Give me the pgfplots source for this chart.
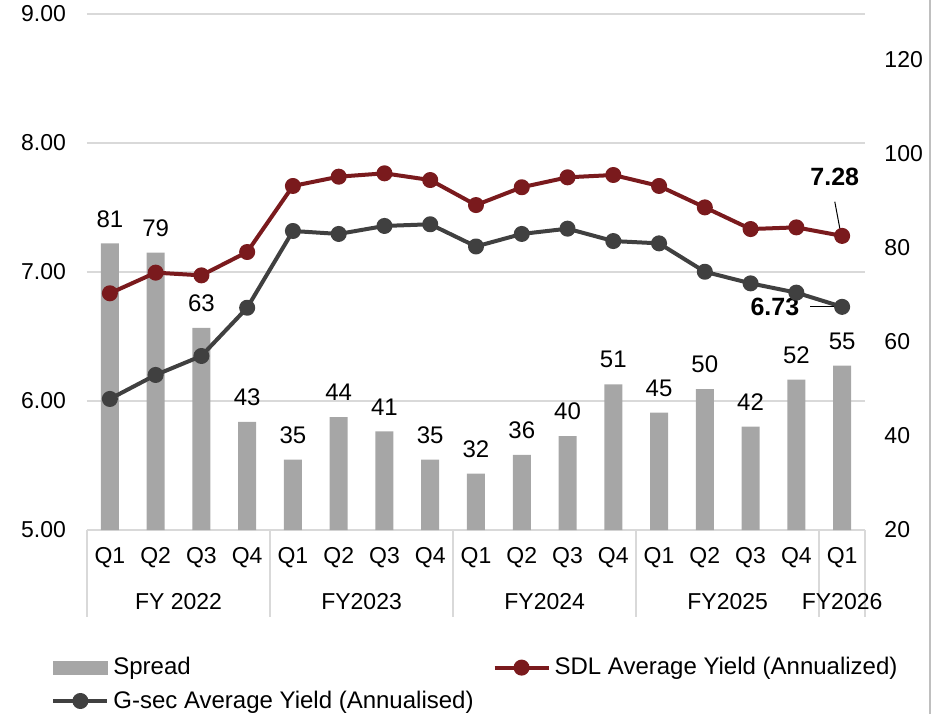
\documentclass[border=0pt]{standalone}
\usepackage{pgfplots}
\pgfplotsset{compat=1.18}
\usepackage{fontspec}
\setmainfont{Liberation Sans}
\definecolor{sdlred}{HTML}{7A1A1D}
\definecolor{gsec}{HTML}{404040}
\definecolor{bargray}{HTML}{A6A6A6}
\definecolor{gridgray}{HTML}{D9D9D9}
\definecolor{framegray}{HTML}{BFBFBF}
\newcommand{\tickfont}{\fontsize{11.5}{13}\selectfont}
\newcommand{\labelfont}{\fontsize{12}{14}\selectfont}
\pgfplotsset{
  common/.style={
    at={(0,0)}, anchor=south west, scale only axis, width=389pt, height=258pt,
    xmin=-0.5, xmax=16.5, clip=false,
    /pgf/number format/assume math mode=true,
    major tick length=0pt, tick style={draw=none},
    axis line style={draw=none},
  },
  lineleg/.style={legend image code/.code={\draw[mark repeat=2,mark phase=2,##1] plot coordinates {(0pt,0pt) (13.5pt,0pt) (27pt,0pt)};}},
  barleg/.style={legend image code/.code={\fill[bargray] (0pt,-3.25pt) rectangle (27pt,3.25pt);}},
}
\begin{document}
\begin{tikzpicture}
% ---------- Axis A: left axis, grid, category labels
\begin{axis}[common, ymin=5, ymax=9, ytick={5,6,7,8,9},
  ymajorgrids, grid style={gridgray, line width=0.75pt},
  yticklabel style={/pgf/number format/.cd, fixed, fixed zerofill, precision=2, /tikz/.cd, font=\tickfont, xshift=-7pt},
  xtick={0,...,16},
  xticklabels={Q1,Q2,Q3,Q4,Q1,Q2,Q3,Q4,Q1,Q2,Q3,Q4,Q1,Q2,Q3,Q4,Q1},
  xticklabel style={anchor=center, yshift=-14pt, font=\tickfont}]
\draw[gridgray, line width=0.75pt] (axis cs:-0.5,5) -- (axis cs:16.5,5);
\draw[gridgray, line width=0.75pt] (axis cs:-0.5,5) -- ([yshift=-43.5pt]axis cs:-0.5,5);
\draw[gridgray, line width=0.75pt] (axis cs:3.5,5) -- ([yshift=-43.5pt]axis cs:3.5,5);
\draw[gridgray, line width=0.75pt] (axis cs:7.5,5) -- ([yshift=-43.5pt]axis cs:7.5,5);
\draw[gridgray, line width=0.75pt] (axis cs:11.5,5) -- ([yshift=-43.5pt]axis cs:11.5,5);
\draw[gridgray, line width=0.75pt] (axis cs:15.5,5) -- ([yshift=-43.5pt]axis cs:15.5,5);
\draw[gridgray, line width=0.75pt] (axis cs:16.5,5) -- ([yshift=-43.5pt]axis cs:16.5,5);
\node[font=\tickfont] at (axis cs:1.5,5) [yshift=-35.9pt] {FY 2022};
\node[font=\tickfont] at (axis cs:5.5,5) [yshift=-35.9pt] {FY2023};
\node[font=\tickfont] at (axis cs:9.5,5) [yshift=-35.9pt] {FY2024};
\node[font=\tickfont] at (axis cs:13.5,5) [yshift=-35.9pt] {FY2025};
\node[font=\tickfont] at (axis cs:16,5) [yshift=-35.9pt] {FY2026};
\end{axis}
% ---------- Axis B: right axis, spread bars
\begin{axis}[common, clip=true, ymin=20, ymax=129.8, ytick={20,40,60,80,100,120},
  yticklabel pos=right,
  yticklabel style={font=\tickfont, xshift=6.2pt},
  xtick=\empty,
  ybar, bar width=9pt,
  nodes near coords,
  every node near coord/.append style={anchor=center, yshift=12.25pt, font=\labelfont, text=black}]
\addplot[fill=bargray, draw=none] coordinates {
 (0,81) (1,79) (2,63) (3,43) (4,35) (5,44) (6,41) (7,35) (8,32)
 (9,36) (10,40) (11,51) (12,45) (13,50) (14,42) (15,52) (16,55)};
\end{axis}
% ---------- Axis C: lines, legend
\begin{axis}[common, ymin=5, ymax=9, hide axis,
  legend columns=2,
  legend cell align=left,
  legend style={draw=none, fill=none, at={(axis description cs:0,0)}, anchor=north west,
    xshift=-21pt, yshift=-59.5pt, font=\fontsize{12}{14}\selectfont, row sep=2.5pt,
    /tikz/every even column/.append style={column sep=7.5pt}}]
\addlegendimage{barleg}
\addlegendentry{Spread}
\addplot[sdlred, line width=2pt, line join=round, mark=*, mark size=3pt, mark options={solid, fill=sdlred}, lineleg]
 coordinates {
 (0,6.835) (1,6.995) (2,6.974) (3,7.155) (4,7.667) (5,7.739) (6,7.765) (7,7.713)
 (8,7.519) (9,7.657) (10,7.734) (11,7.752) (12,7.667) (13,7.501) (14,7.333) (15,7.346) (16,7.28)};
\addlegendentry{SDL Average Yield (Annualized)}
\addplot[gsec, line width=2pt, line join=round, mark=*, mark size=3pt, mark options={solid, fill=gsec}, lineleg]
 coordinates {
 (0,6.016) (1,6.202) (2,6.349) (3,6.723) (4,7.318) (5,7.295) (6,7.357) (7,7.370)
 (8,7.198) (9,7.295) (10,7.336) (11,7.240) (12,7.222) (13,7.002) (14,6.912) (15,6.840) (16,6.73)};
\addlegendentry{G-sec Average Yield (Annualised)}
\draw[black, line width=0.5pt] (axis cs:15.84,7.545) -- (axis cs:15.97,7.30);
\draw[black, line width=0.5pt] (axis cs:15.30,6.729) -- (axis cs:15.9,6.729);
\node[font=\bfseries\fontsize{12.5}{14}\selectfont] at (axis cs:15.84,7.736) {7.28};
\node[font=\bfseries\fontsize{12.5}{14}\selectfont] at (axis cs:14.53,6.729) {6.73};
\end{axis}
\draw[framegray, line width=0.75pt] (421.5pt,-92pt) -- (421.5pt,265pt);
\pgfresetboundingbox
\path[use as bounding box] (-43.5pt,-92pt) rectangle (423pt,265pt);
\end{tikzpicture}
\end{document}
